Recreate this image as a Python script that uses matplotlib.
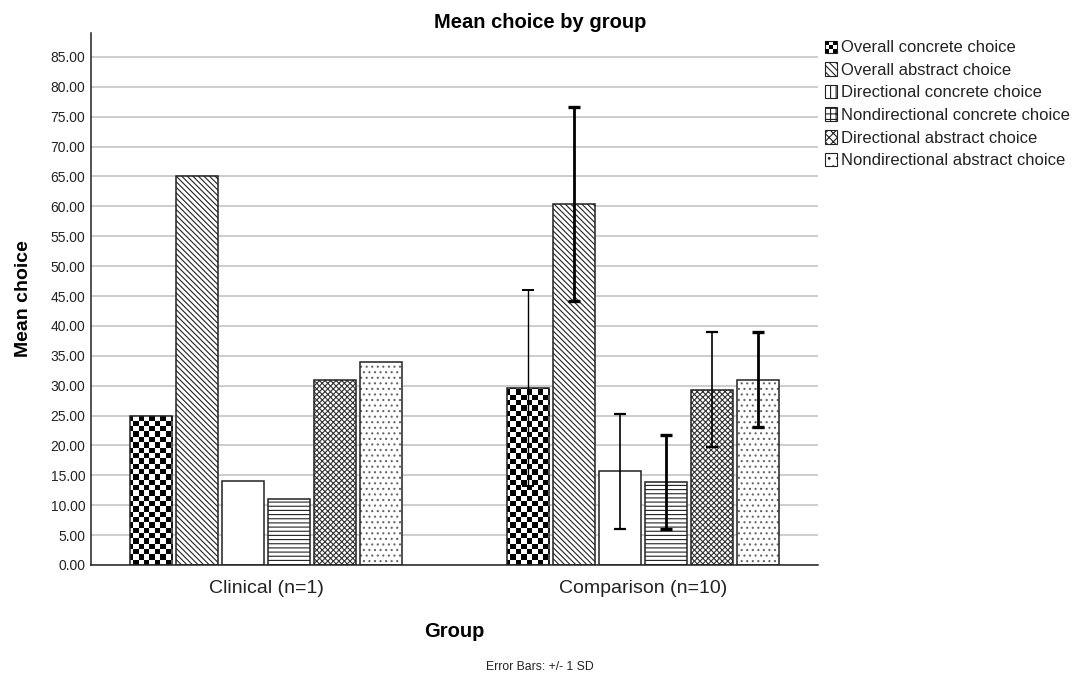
import numpy as np
import matplotlib
matplotlib.use("Agg")
import matplotlib.pyplot as plt
from matplotlib.patches import Rectangle, Patch
from matplotlib.legend_handler import HandlerBase

plt.rcParams['font.family'] = ['Liberation Sans', 'DejaVu Sans']
plt.rcParams['hatch.linewidth'] = 0.8

groups = ['Clinical (n=1)', 'Comparison (n=10)']
series = ['Overall concrete choice', 'Overall abstract choice',
          'Directional concrete choice', 'Nondirectional concrete choice',
          'Directional abstract choice', 'Nondirectional abstract choice']
clinical = [25.0, 65.0, 14.0, 11.0, 31.0, 34.0]
comparison = [29.6, 60.4, 15.7, 13.9, 29.3, 31.0]
comparison_sd = [16.4, 16.3, 9.6, 7.9, 9.6, 7.9]

# bar textures (checker is drawn separately as an image)
bar_hatch = [None, '\\\\\\\\\\\\', None, '----', 'xxxxxx', '...']
hatch_col = ['#222222', '#222222', '#222222', '#222222', '#333333', '#666666']
legend_hatch = [None, '\\\\\\\\\\', '|||', '+++', 'xxxx', '..']
err_lw = [1.0, 2.0, 1.2, 2.0, 1.2, 2.0]

fig = plt.figure(figsize=(10.74, 6.78), dpi=100)
ax = fig.add_axes([0.0847, 0.1667, 0.677, 0.7846])

x = np.arange(len(groups))
step = 0.1222
width = 0.1116
xlim = (-0.466, 1.465)
ylim = (0, 89)
ax.set_xlim(*xlim)
ax.set_ylim(*ylim)

# checkerboard image (about 5.3 px cells over the whole axes)
ncol = int(727 / 5.3)
nrow = int(532 / 5.3)
checker = (np.indices((nrow, ncol)).sum(axis=0) % 2).astype(float)

for i in range(len(series)):
    pos = x + (i - 2.5) * step
    vals = [clinical[i], comparison[i]]
    bars = ax.bar(pos, vals, width, color='white', edgecolor=hatch_col[i],
                  linewidth=0, hatch=bar_hatch[i], zorder=2)
    if i == 0:
        for b in bars:
            im = ax.imshow(checker, cmap='gray_r', extent=(*xlim, *ylim),
                           aspect='auto', interpolation='nearest', zorder=2.5)
            im.set_clip_path(b)
    ax.bar(pos, vals, width, fill=False, edgecolor='#222222', linewidth=1.1, zorder=3)
    ax.errorbar(pos[1], comparison[i], yerr=comparison_sd[i], fmt='none',
                ecolor='black', elinewidth=err_lw[i], capsize=4.6,
                capthick=err_lw[i] + 0.4, zorder=4)

ax.set_xlim(*xlim)
ax.set_ylim(*ylim)
ax.set_yticks(np.arange(0, 86, 5))
ax.set_yticklabels(['%.2f' % v for v in np.arange(0, 86, 5)], fontsize=10, color='#222222')
ax.set_xticks(x)
ax.set_xticklabels(groups, fontsize=14, color='#222222')
ax.tick_params(axis='both', length=0, pad=4)
ax.tick_params(axis='x', pad=11)
ax.grid(axis='y', color='#c0c0c0', linewidth=1.1, zorder=0)
ax.set_axisbelow(True)
for s in ['top', 'right']:
    ax.spines[s].set_visible(False)
for s in ['left', 'bottom']:
    ax.spines[s].set_color('#222222')
    ax.spines[s].set_linewidth(1.1)

fig.text(0.503, 0.967, 'Mean choice by group', ha='center', va='center',
         fontsize=14.5, fontweight='bold')
ax.set_ylabel('Mean choice', fontsize=14, fontweight='bold', labelpad=13)
ax.set_xlabel('Group', fontsize=14.5, fontweight='bold', labelpad=18)
fig.text(0.503, 0.012, 'Error Bars: +/- 1 SD', ha='center', fontsize=8.8, color='#222222')


class CheckerHandler(HandlerBase):
    def create_artists(self, legend, orig_handle, xdescent, ydescent,
                       width, height, fontsize, trans):
        side = min(width, height)
        x0, y0 = -xdescent, -ydescent
        cell = side / 3.0
        arts = [Rectangle((x0, y0), side, side, facecolor='white',
                          edgecolor='#222222', linewidth=0.8, transform=trans)]
        for r in range(3):
            for c in range(3):
                if (r + c) % 2 == 0:
                    arts.append(Rectangle((x0 + c * cell, y0 + r * cell), cell, cell,
                                          facecolor='black', edgecolor='none',
                                          transform=trans))
        return arts


handles = []
for i in range(len(series)):
    handles.append(Patch(facecolor='white', edgecolor='#222222',
                         hatch=legend_hatch[i], linewidth=0.8))
hmap = {handles[0]: CheckerHandler()}
fig.legend(handles, series, loc='upper left', bbox_to_anchor=(0.762, 0.952),
           frameon=False, fontsize=12, handlelength=0.7, handleheight=0.9,
           handletextpad=0.25, labelspacing=0.42, borderaxespad=0,
           handler_map=hmap, labelcolor='#222222')

fig.savefig('out.png', dpi=100)
